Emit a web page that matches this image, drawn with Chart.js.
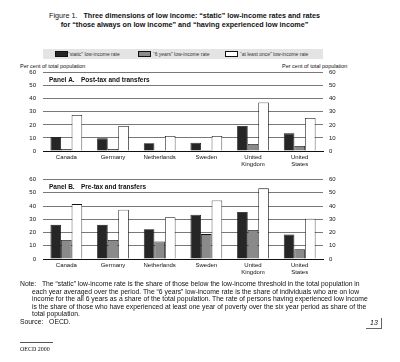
<!DOCTYPE html>
<html>
<head>
<meta charset="utf-8">
<script src="https://cdn.jsdelivr.net/npm/chart.js@4"></script>
<style>
    body { margin: 0; background: #fff; font-family: "Liberation Sans", Arial, sans-serif; color: #111; }
    #page { position: relative; width: 400px; height: 362px; overflow: hidden; }
    .abs { position: absolute; white-space: nowrap; }
    .title { left: 0; width: 369px; text-align: center; font-size: 7.2px; font-weight: bold; line-height: 9px; }
    #legend { left: 43px; top: 49px; width: 280px; height: 10px; background: #e4e4e4; }
    .sw { position: absolute; top: 2px; width: 11px; height: 4px; border: 1px solid #111; }
    .lg { position: absolute; top: 2px; font-size: 5px; line-height: 6px; color: #333; }
    .unit { font-size: 5.5px; top: 63px; }
    .note { font-size: 6.8px; line-height: 7.5px; }
    .wrap { position: absolute; left: 0; width: 400px; }
</style>
</head>
<body>
<div id="page">
    <div class="abs title" style="top:11px"><span style="font-weight:normal">Figure 1.</span>&nbsp;&nbsp;&nbsp;Three dimensions of low income: “static” low-income rates and rates</div>
    <div class="abs title" style="top:20px">for “those always on low income” and “having experienced low income”</div>

    <div class="abs" id="legend"></div>

    <div class="abs unit" style="left:20px">Per cent of total population</div>
    <div class="abs unit" style="left:282px">Per cent of total population</div>

    <div class="wrap" style="top:62px; height:111px"><canvas id="panelA"></canvas></div>
    <div class="wrap" style="top:169px; height:112px"><canvas id="panelB"></canvas></div>

    <div class="abs note" style="left:20px; top:280px">Note:&nbsp;&nbsp;&nbsp;The “static” low-income rate is the share of those below the low-income threshold in the total population in</div>
    <div class="abs note" style="left:32px; top:287.5px">each year averaged over the period. The “6 years” low-income rate is the share of individuals who are on low</div>
    <div class="abs note" style="left:32px; top:295px">income for the all 6 years as a share of the total population. The rate of persons having experienced low income</div>
    <div class="abs note" style="left:32px; top:302.5px">is the share of those who have experienced at least one year of poverty over the six year period as share of the</div>
    <div class="abs note" style="left:32px; top:310px">total population.</div>
    <div class="abs note" style="left:20px; top:317.5px">Source:&nbsp;&nbsp;&nbsp;OECD.</div>

    <div class="abs" style="left:366px; top:318px; width:15px; height:10px; border-right:1px solid #666; border-bottom:1px solid #666;"></div>
    <div class="abs" style="left:370px; top:319px; font-size:7px; font-style:italic;">13</div>

    <div class="abs" style="left:20px; top:342px; width:33px; border-top:1px solid #555;"></div>
    <div class="abs" style="left:20px; top:346px; font-size:6px; font-family:'Liberation Serif', serif;">OECD 2000</div>
</div>

<script>
// categories and series
const countries = ['Canada', 'Germany', 'Netherlands', 'Sweden', ['United', 'Kingdom'], ['United', 'States']];
const seriesNames = ['“static” low-income rate', '“6 years” low-income rate', '“at least once” low-income rate'];
const seriesColors = ['#262626', '#8a8a8a', '#ffffff'];

// Panel A: post-tax and transfers
const postStatic = [10.7, 9.7, 5.9, 6.4, 19.1, 13.5];
const postSixYears = [1.5, 1.5, 0.6, 0.8, 5.4, 3.8];
const postOnce = [27.6, 19.1, 11.5, 11.5, 37.2, 25.3];

// Panel B: pre-tax and transfers
const preStatic = [25.8, 25.8, 22.5, 33.5, 35.6, 18.6];
const preSixYears = [14.4, 14.4, 13.2, 18.8, 21.9, 7.4];
const preOnce = [41.5, 37.2, 31.6, 44.3, 53.4, 30.4];

const yMin = 0, yMax = 60, yStep = 10;

// legend built from series names
const legendPos = [[12, 25], [95, 110], [182, 197]];
const legend = document.getElementById('legend');
seriesNames.forEach(function (name, i) {
    const sw = document.createElement('div');
    sw.className = 'sw';
    sw.style.left = legendPos[i][0] + 'px';
    sw.style.background = seriesColors[i];
    legend.appendChild(sw);
    const t = document.createElement('div');
    t.className = 'lg';
    t.style.left = legendPos[i][1] + 'px';
    t.textContent = name;
    legend.appendChild(t);
});

// panel caption drawn inside the plot area
const panelTitle = {
    id: 'panelTitle',
    afterDraw: function (chart, args, opts) {
        const c = chart.ctx;
        const y = chart.scales.y.getPixelForValue(54.5);
        c.save();
        c.fillStyle = '#111';
        c.font = 'bold 6.5px "Liberation Sans", Arial, sans-serif';
        c.textBaseline = 'middle';
        c.fillText(opts.label, chart.chartArea.left + 6, y);
        c.fillText(opts.text, chart.chartArea.left + 38, y);
        c.restore();
    }
};

function makePanel(id, label, text, values) {
    const tickFont = { size: 6, family: '"Liberation Sans", Arial, sans-serif' };
    new Chart(document.getElementById(id), {
        type: 'bar',
        data: {
            labels: countries,
            datasets: values.map(function (v, i) {
                return {
                    label: seriesNames[i],
                    data: v,
                    backgroundColor: seriesColors[i],
                    borderColor: '#111',
                    borderWidth: 0.8
                };
            })
        },
        plugins: [panelTitle],
        options: {
            responsive: true,
            maintainAspectRatio: false,
            animation: false,
            categoryPercentage: 0.68,
            barPercentage: 1,
            layout: { padding: { top: 6, left: 0, right: 0, bottom: 0 } },
            scales: {
                x: {
                    grid: { display: false, drawTicks: false },
                    border: { display: true, color: '#111', width: 1 },
                    ticks: { color: '#111', font: tickFont, padding: 3, maxRotation: 0, autoSkip: false },
                    afterFit: function (s) { s.height = 22; }
                },
                y: {
                    position: 'left',
                    min: yMin, max: yMax,
                    ticks: { stepSize: yStep, color: '#111', font: tickFont, padding: 7 },
                    grid: { color: '#555', lineWidth: 0.8, drawTicks: false },
                    border: { display: false },
                    afterFit: function (s) { s.width = 43; }
                },
                y2: {
                    position: 'right',
                    min: yMin, max: yMax,
                    ticks: { stepSize: yStep, color: '#111', font: tickFont, padding: 6 },
                    grid: { display: false, drawTicks: false },
                    border: { display: false },
                    afterFit: function (s) { s.width = 77; }
                }
            },
            plugins: {
                legend: { display: false },
                tooltip: { enabled: false },
                panelTitle: { label: label, text: text }
            }
        }
    });
}

makePanel('panelA', 'Panel A.', 'Post-tax and transfers', [postStatic, postSixYears, postOnce]);
makePanel('panelB', 'Panel B.', 'Pre-tax and transfers', [preStatic, preSixYears, preOnce]);
</script>
</body>
</html>
